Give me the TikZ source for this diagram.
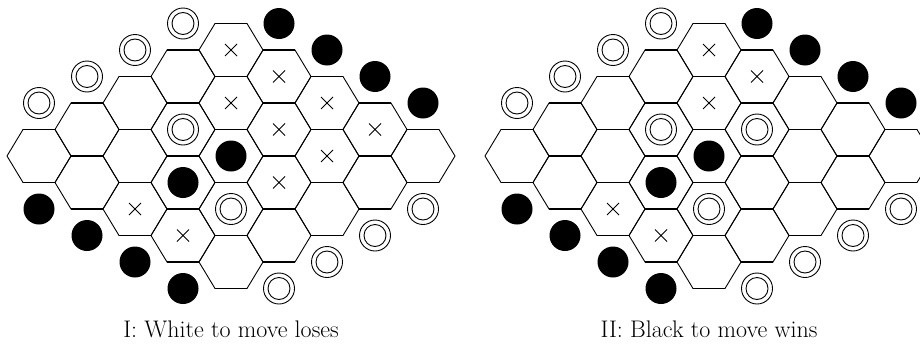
\documentclass[tikz,border=0pt]{standalone}
\tikzset{
  hexside/.style={line width=0.9pt, line cap=round},
  hexflat/.style={line width=1.6pt},
  blackstone/.style={fill=black},
  whitering/.style={line width=0.9pt},
  crossmark/.style={line width=0.8pt},
  caption/.style={anchor=base, font=\fontsize{24}{28}\selectfont, inner sep=0pt}
}
\newcommand\hexat[3]{({#1+39+48*(#2+#3)},{156+26.5*(#3-#2)})}
\newcommand\bstoneat[3]{\fill[blackstone] \hexat{#1}{#2}{#3} circle[radius=15.5];}
\newcommand\wstoneat[3]{\draw[whitering] \hexat{#1}{#2}{#3} circle[radius=15.5] circle[radius=11];}
\newcommand\crossat[3]{\draw[crossmark] \hexat{#1}{#2}{#3} +(-6,-6) -- +(6,6) +(-6,6) -- +(6,-6);}
\begin{document}
\begin{tikzpicture}[x=1pt,y=-1pt]
\useasboundingbox (0,0) rectangle (920,343);
\clip (0,0) rectangle (920,343);
\foreach \ox in {0,478}{
  \foreach \i in {0,...,4}{
    \foreach \j in {0,...,4}{
      \begin{scope}[shift={({\ox+39+48*(\i+\j)},{156+26.5*(\j-\i)})}]
        \draw[hexside] (-32,0) -- (-16,-26.5) (16,-26.5) -- (32,0) -- (16,26.5) (-16,26.5) -- (-32,0);
        \draw[hexflat] (-16,-26.5) -- (16,-26.5) (-16,26.5) -- (16,26.5);
      \end{scope}
    }
  }
  \foreach \k in {0,...,3}{
    \bstoneat{\ox}{5}{\k}
    \wstoneat{\ox}{\k}{5}
  }
  \foreach \k in {1,...,4}{
    \wstoneat{\ox}{\k}{-1}
    \bstoneat{\ox}{-1}{\k}
  }
}
% left board
\foreach \a/\b in {4/0,4/1,3/1,4/2,3/2,4/3,3/3,2/3,0/2,0/3}{\crossat{0}{\a}{\b}}
\wstoneat{0}{2}{1}
\wstoneat{0}{1}{3}
\bstoneat{0}{2}{2}
\bstoneat{0}{1}{2}
% right board
\foreach \a/\b in {4/0,4/1,3/1,0/2,0/3}{\crossat{478}{\a}{\b}}
\wstoneat{478}{2}{1}
\wstoneat{478}{3}{2}
\wstoneat{478}{1}{3}
\bstoneat{478}{2}{2}
\bstoneat{478}{1}{2}
\node[caption] (capI) at (231,337.5) {I: White to move loses};
\node[caption] (capII) at (709,337.5) {II: Black to move wins};
\end{tikzpicture}
\end{document}
